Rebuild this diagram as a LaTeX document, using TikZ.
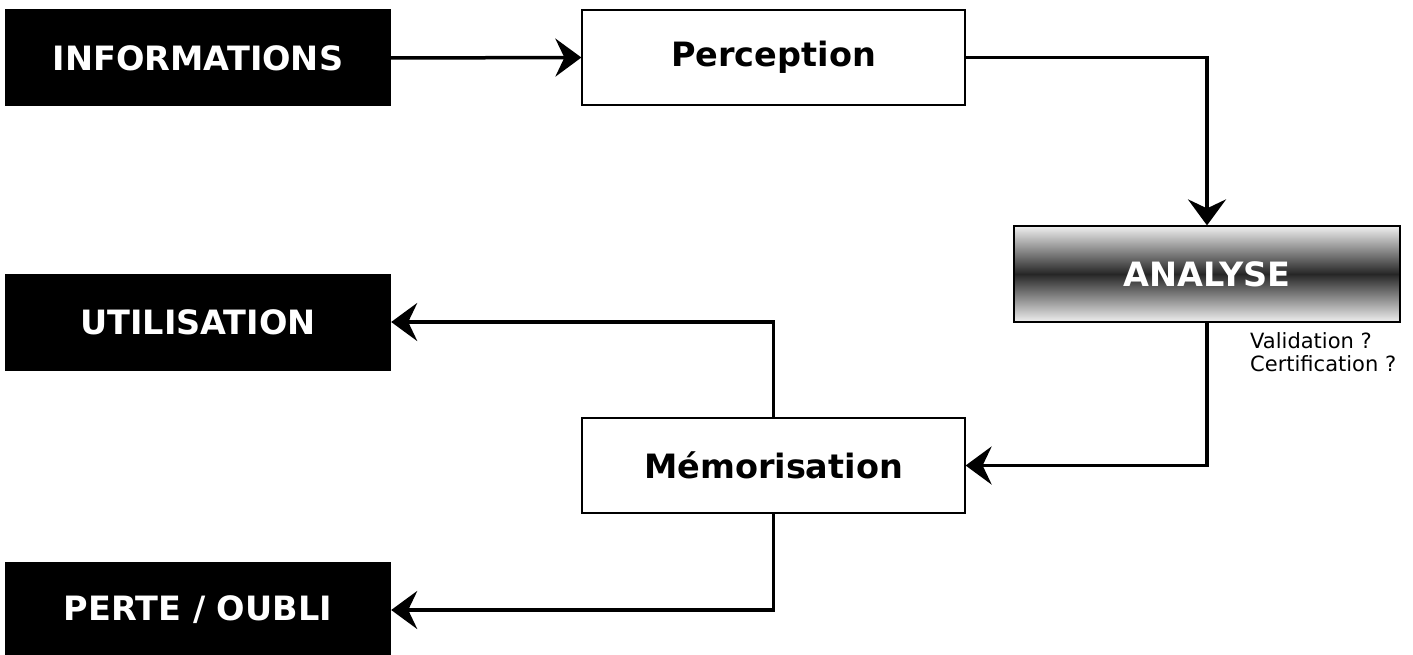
\documentclass[tikz,border=0pt]{standalone}
\usepackage{fontspec}
\setmainfont{DejaVu Sans}
\usetikzlibrary{arrows.meta}
\begin{document}
\begin{tikzpicture}[x=1pt,y=-1pt,
  boxfont/.style={font=\fontsize{33.5}{38}\selectfont\bfseries},
  darkbox/.style={boxfont,fill=black,text=white,minimum width=386pt,minimum height=97pt,inner sep=0pt},
  whitebox/.style={boxfont,draw=black,line width=1.2pt,fill=white,minimum width=383pt,minimum height=95pt,inner sep=0pt},
  shadedbox/.style={boxfont,draw=black,line width=1.2pt,top color=black!6,bottom color=black!6,middle color=black!85,text=white,minimum width=386pt,minimum height=96pt,inner sep=0pt},
  flow/.style={line width=3.5pt,-{Stealth[length=26pt,width=38pt,inset=9pt]}},
  note/.style={font=\fontsize{21}{23}\selectfont,align=left,inner sep=0pt}
]
\useasboundingbox (0,0) rectangle (1413,655);

% boxes
\node[darkbox] (info) at (198,58) {INFORMATIONS};
\node[whitebox] (perc) at (773.5,57.5) {Perception};
\node[shadedbox] (ana) at (1207,274) {ANALYSE};
\node[darkbox] (util) at (198,322) {UTILISATION};
\node[whitebox] (mem) at (773.5,465.5) {Mémorisation};
\node[darkbox] (perte) at (198,610) {PERTE / OUBLI};

% question note under the analysis step
\node[note,anchor=north west] (q) at (1250,332) {Validation ?\\Certification ?};

% connectors
\draw[flow] (info.east) -- (perc.west);
\draw[flow] (perc.east) -| (ana.north);
\draw[flow] (ana.south) |- (mem.east);
\draw[flow] (mem.north) |- (util.east);
\draw[flow] (mem.south) |- (perte.east);
\end{tikzpicture}
\end{document}
